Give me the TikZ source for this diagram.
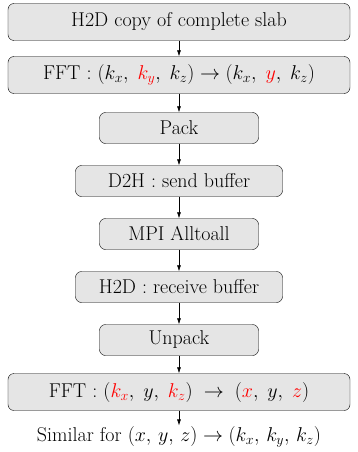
\RequirePackage{fix-cm}
\documentclass[tikz,border=0pt]{standalone}
\usepackage{fontspec}
\usepackage{amsmath}
\usetikzlibrary{arrows.meta, positioning}

\begin{document}
\begin{tikzpicture}[
        font=\fontsize{20}{24}\selectfont,
        node distance=53pt, on grid,
        >={Latex[width=4pt,length=6pt]},
        base/.style={draw, thin, align=center, rounded corners=6pt, fill=gray!20, inner sep=2pt},
        wide/.style={base, minimum width=342pt, minimum height=37pt},
        mid/.style={base, minimum width=207pt, minimum height=31pt},
        small/.style={base, minimum width=159pt, minimum height=31pt},
        arrow/.style={->, semithick}
    ]
    \useasboundingbox (-179pt,22pt) rectangle (179pt,-430pt);

    % Nodes
    \node[wide] (copy) at (0,0) {H2D copy of complete slab};
    \node[wide, below=of copy] (fftY) {FFT : $(k_x,\; {\color{red}k_y},\; k_z) \rightarrow (k_x,\; {\color{red}y},\; k_z)$};
    \node[small, below=of fftY] (pack) {Pack};
    \node[mid, below=of pack] (send) {D2H : send buffer};
    \node[small, below=of send] (alltoall) {MPI Alltoall};
    \node[mid, below=of alltoall] (recv) {H2D : receive buffer};
    \node[small, below=of recv] (unpack) {Unpack};
    \node[wide, below=52pt of unpack] (fftXZ) {FFT : $({\color{red}k_x},\; y,\; {\color{red}k_z}) \;\rightarrow\; ({\color{red}x},\; y,\; {\color{red}z})$};
    \node[below=45pt of fftXZ, inner sep=1pt] (similar) {Similar for $(x,\, y,\, z) \rightarrow (k_x,\, k_y,\, k_z)$};

    % Arrows
    \draw[arrow] (copy) -- (fftY);
    \draw[arrow] (fftY) -- (pack);
    \draw[arrow] (pack) -- (send);
    \draw[arrow] (send) -- (alltoall);
    \draw[arrow] (alltoall) -- (recv);
    \draw[arrow] (recv) -- (unpack);
    \draw[arrow] (unpack) -- (fftXZ);
    \draw[arrow] (fftXZ) -- (similar);

\end{tikzpicture}
\end{document}
